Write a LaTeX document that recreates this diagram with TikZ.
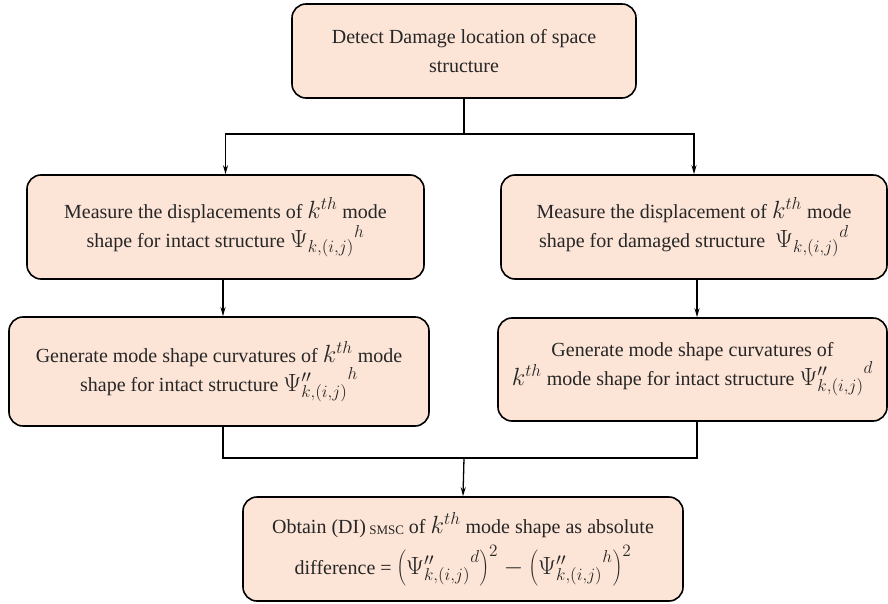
\documentclass[tikz,border=0pt]{standalone}
\usepackage{fontspec}
\setmainfont{Liberation Serif}
\usetikzlibrary{arrows.meta}
\definecolor{boxfill}{HTML}{FCE4D6}
\definecolor{txt}{HTML}{262626}
\tikzset{
  stepbox/.style={draw=black, line width=1.6pt, fill=boxfill, rounded corners=14pt,
    align=center, inner sep=0pt, text=txt, font=\fontsize{20}{29}\selectfont},
  conn/.style={line width=1.3pt, draw=black},
  arr/.style={conn, -{Stealth[length=9pt,width=5pt]}}
}
\newcommand{\M}[1]{\scalebox{1.2}{$#1$}}
\newcommand{\Psk}[1]{\M{{\Psi_{k,(i,j)}}^{#1}}}
\newcommand{\Pskk}[1]{{\Psi''_{k,(i,j)}}^{#1}}
\newcommand{\kth}{\M{k^{th}}}
\begin{document}
\begin{tikzpicture}[x=1pt,y=-1pt]
\useasboundingbox (0,0) rectangle (888,604);
\node[stepbox, minimum width=344pt, minimum height=94pt] (T) at (464,51)
  {Detect Damage location of space\\structure};
\node[stepbox, minimum width=397pt, minimum height=104pt] (L1) at (225.5,227)
  {Measure the displacements of \kth{} mode\\shape for intact structure \Psk{h}};
\node[stepbox, minimum width=386pt, minimum height=104pt] (R1) at (694,227)
  {Measure the displacement of \kth{} mode\\shape for damaged structure\ \ \Psk{d}};
\node[stepbox, minimum width=420pt, minimum height=109pt] (L2) at (219,371.5)
  {Generate mode shape curvatures of \kth{} mode\\shape for intact structure \M{\Pskk{h}}};
\node[stepbox, minimum width=389pt, minimum height=103pt] (R2) at (692.5,369.5)
  {Generate mode shape curvatures of\\\kth{} mode shape for intact structure \M{\Pskk{d}}};
\node[stepbox, minimum width=440pt, minimum height=104pt] (B) at (463,549)
  {Obtain (DI)\,\raisebox{-1.5pt}{\fontsize{13}{13}\selectfont SMSC} of \kth{} mode shape as absolute\\[7pt]
   difference = \M{\left(\Pskk{d}\right)^2-\left(\Pskk{h}\right)^2}};
\coordinate (s1) at (464,134);
\coordinate (s2) at (464,458);
\draw[conn] (T.south) -- (s1);
\draw[arr] (s1) -| (L1.north);
\draw[arr] (s1) -| (R1.north);
\draw[arr] (L1.south -| 223,0) -- (L2.north -| 223,0);
\draw[arr] (R1.south -| 697,0) -- (R2.north -| 697,0);
\draw[conn] (L2.south -| 223,0) |- (s2) -| (R2.south -| 697,0);
\draw[arr] (s2) -- (B.north);
\end{tikzpicture}
\end{document}
